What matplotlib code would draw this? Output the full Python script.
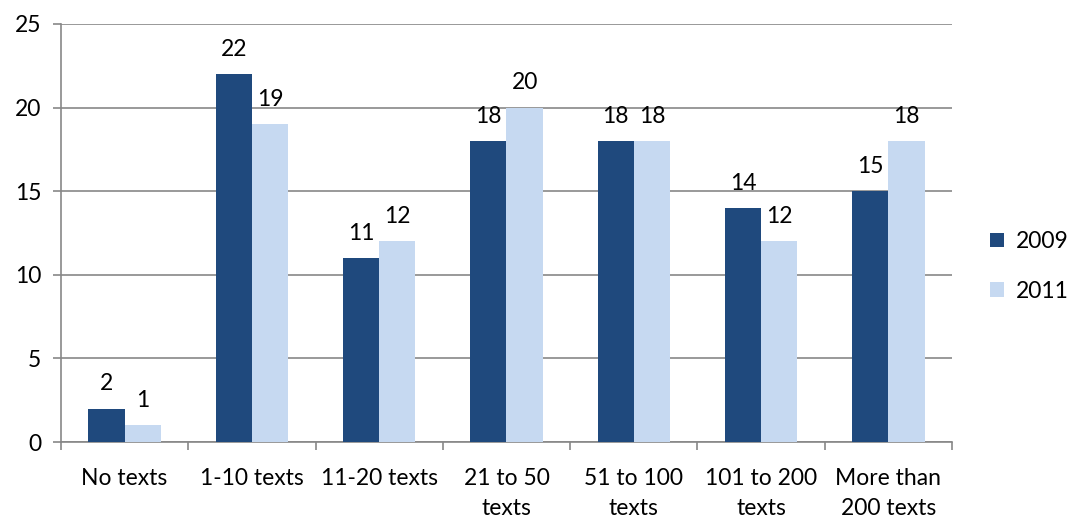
import numpy as np
import matplotlib.pyplot as plt

categories = ["No texts", "1-10 texts", "11-20 texts", "21 to 50\ntexts",
              "51 to 100\ntexts", "101 to 200\ntexts", "More than\n200 texts"]
values_2009 = [2, 22, 11, 18, 18, 14, 15]
values_2011 = [1, 19, 12, 20, 18, 12, 18]

plt.rcParams['font.family'] = ['Lato', 'DejaVu Sans']
fs = 16.5

fig = plt.figure(figsize=(10.69, 5.17), dpi=100)
ax = fig.add_axes([0.057, 0.145, 0.8336, 0.8086])

x = np.arange(len(categories))
w = 0.285
b1 = ax.bar(x - w / 2, values_2009, w, color="#1F497D", label="2009", zorder=3)
b2 = ax.bar(x + w / 2, values_2011, w, color="#C6D9F1", label="2011", zorder=3)

for bars in (b1, b2):
    for bar in bars:
        h = bar.get_height()
        ax.text(bar.get_x() + bar.get_width() / 2, h + 0.85, f"{int(h)}",
                ha="center", va="bottom", fontsize=fs)

ax.set_xlim(-0.5, len(categories) - 0.5)
ax.set_ylim(0, 25)
ax.set_yticks(range(0, 26, 5))
ax.yaxis.grid(True, color="#878787", linewidth=1.2, zorder=0)
ax.set_xticks(x)
ax.set_xticklabels(categories, fontsize=fs, linespacing=1.5)
ax.set_xticks(np.arange(-0.5, len(categories)), minor=True)
ax.tick_params(axis="x", which="major", length=0, pad=19)
ax.tick_params(axis="x", which="minor", length=6, color="#878787", width=1.2)
ax.tick_params(axis="y", length=6, color="#878787", width=1.2, labelsize=fs, pad=8)

for side in ("top", "right"):
    ax.spines[side].set_visible(False)
for side in ("left", "bottom"):
    ax.spines[side].set_color("#878787")
    ax.spines[side].set_linewidth(1.2)

ax.legend(loc="center left", bbox_to_anchor=(1.02, 0.42), frameon=False,
          fontsize=fs, handlelength=0.6, handleheight=0.6, labelspacing=1.25,
          handletextpad=0.5)

plt.savefig("out.png", dpi=100)
